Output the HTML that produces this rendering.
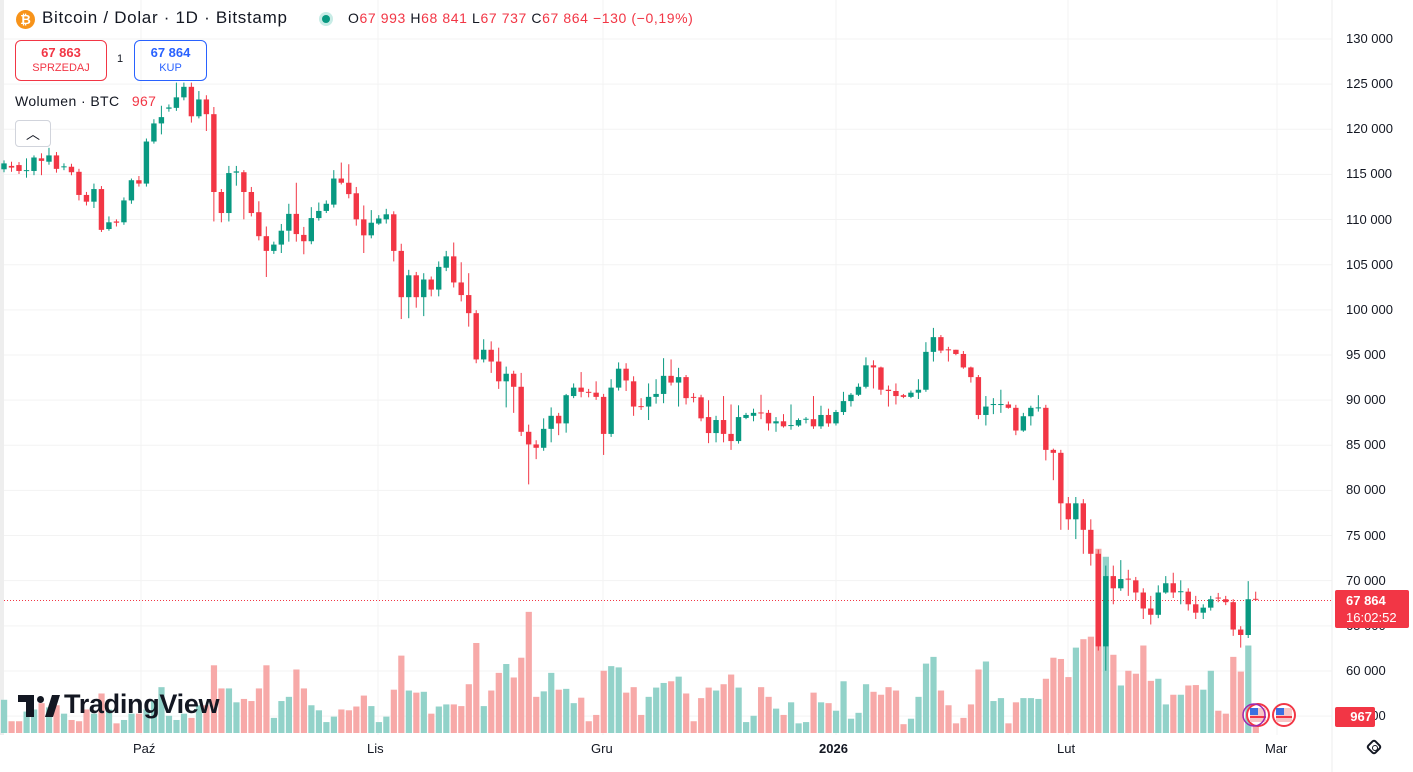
<!DOCTYPE html>
<html><head><meta charset="utf-8">
<style>
html,body{margin:0;padding:0;background:#fff;}
body{width:1413px;height:772px;position:relative;overflow:hidden;font-family:"Liberation Sans",sans-serif;color:#131722;}
.abs{position:absolute;}
.yl{position:absolute;left:1346px;font-size:13px;color:#131722;}
.xl{position:absolute;top:741px;font-size:13px;color:#131722;}
</style></head><body>
<div class="abs" style="left:0;top:0;width:4px;height:735px;background:#eeeeee"></div>
<svg id="s" class="abs" style="left:0;top:0" width="1413" height="772"></svg>

<!-- header -->
<div class="abs" style="left:16px;top:10px;width:19px;height:19px;border-radius:50%;background:#f7931a;color:#fff;font-size:13px;font-weight:bold;text-align:center;line-height:19px">₿</div>
<div class="abs" style="left:42px;top:8px;font-size:17px;letter-spacing:0.7px;color:#131722">Bitcoin / Dolar · 1D · Bitstamp</div>
<div class="abs" style="left:319px;top:12px;width:14px;height:14px;border-radius:50%;background:#c8ece6"></div>
<div class="abs" style="left:322px;top:15px;width:8px;height:8px;border-radius:50%;background:#089981"></div>
<div class="abs" style="left:348px;top:10px;font-size:14px;letter-spacing:0.6px;color:#131722;white-space:pre">O<span style="color:#f23645">67 993</span> H<span style="color:#f23645">68 841</span> L<span style="color:#f23645">67 737</span> C<span style="color:#f23645">67 864</span> <span style="color:#f23645">−130 (−0,19%)</span></div>

<div class="abs" style="left:15px;top:40px;width:90px;height:39px;border:1px solid #f23645;border-radius:6px;text-align:center;color:#f23645">
<div style="font-size:13px;font-weight:bold;margin-top:4px">67 863</div><div style="font-size:11px;margin-top:2px">SPRZEDAJ</div></div>
<div class="abs" style="left:117px;top:53px;font-size:11px">1</div>
<div class="abs" style="left:134px;top:40px;width:71px;height:39px;border:1px solid #2962ff;border-radius:6px;text-align:center;color:#2962ff">
<div style="font-size:13px;font-weight:bold;margin-top:4px">67 864</div><div style="font-size:11px;margin-top:2px">KUP</div></div>

<div class="abs" style="left:15px;top:93px;font-size:14px;letter-spacing:0.4px;color:#131722">Wolumen · BTC <span style="color:#f23645;margin-left:8px">967</span></div>
<div class="abs" style="left:15px;top:120px;width:34px;height:25px;border:1px solid #d1d4dc;border-radius:4px;background:#fff;text-align:center;font-size:14px;line-height:27px">︿</div>

<!-- TradingView logo -->
<div class="abs" style="left:18px;top:695px;width:40px;height:22px">
<div class="abs" style="left:0;top:0;width:16px;height:7px;background:#131722"></div>
<div class="abs" style="left:8px;top:0;width:8px;height:22px;background:#131722"></div>
<div class="abs" style="left:19px;top:1px;width:7px;height:7px;border-radius:50%;background:#131722"></div>
<svg class="abs" style="left:18px;top:0" width="24" height="22"><polygon points="9,22 16,0 24,0 17,22" fill="#131722"/></svg>
</div>
<div class="abs" style="left:64px;top:689px;font-size:27px;font-weight:bold;color:#131722;letter-spacing:-0.3px">TradingView</div>

<!-- y labels -->
<div id="ylabels"></div>
<div class="abs" style="left:1335px;top:590px;width:74px;height:38px;background:#f23645;border-radius:2px;color:#fff;font-size:13px;">
<div style="margin:3px 0 0 11px;font-weight:bold">67 864</div><div style="margin:2px 0 0 11px">16:02:52</div></div>
<div class="abs" style="left:1335px;top:707px;width:40px;height:20px;background:#f23645;border-radius:2px;color:#fff;font-size:13px;font-weight:bold;line-height:20px;text-align:right;padding-right:3px;box-sizing:border-box">967</div>

<div class="xl" style="left:133px">Paź</div>
<div class="xl" style="left:367px">Lis</div>
<div class="xl" style="left:591px">Gru</div>
<div class="xl" style="left:819px;font-weight:bold">2026</div>
<div class="xl" style="left:1057px">Lut</div>
<div class="xl" style="left:1265px">Mar</div>
<div class="abs" style="left:1368px;top:741px;width:12px;height:12px;border:2px solid #131722;box-sizing:border-box;transform:rotate(45deg);border-radius:3px"></div>
<div class="abs" style="left:1372px;top:745px;width:4px;height:4px;border:1.5px solid #131722;border-radius:50%"></div>

<script>
var NS="http://www.w3.org/2000/svg",s=document.getElementById('s');
function el(t,a){var e=document.createElementNS(NS,t);for(var k in a)e.setAttribute(k,a[k]);s.appendChild(e);return e;}
var yl=document.getElementById('ylabels'),h='';
for(var k=0;k<=15;k++){var p=130000-5000*k,y=39+45.14*k;
 el('line',{x1:4,x2:1332,y1:y,y2:y,stroke:'#f3f3f3','stroke-width':1});
 h+='<div class="yl" style="top:'+(y-8)+'px">'+(p/1000)+' 000</div>';
}
yl.innerHTML=h;
[141,378,603,836,1068,1277].forEach(function(x){el('line',{x1:x,x2:x,y1:0,y2:735,stroke:'#f3f3f3'});});
el('line',{x1:1332,x2:1332,y1:0,y2:772,stroke:'#eeeeee'});
var C=[
['g',222,236],['r',228,232,218,242],['r',226,240],['g',238,240,210,256],['g',208,240,203,250],['r',210,216,198,250],['g',203,218,185],['r',203,235,195,244],['g',229,231],['r',230,243],
['r',242,297,0,310],['r',297,313,0,322],['g',283,313,270,328],['r',283,380,0,385],['g',362,378,348,382],['r',360,363,355,372],['g',310,362,0,368],['g',262,310,258,318],['r',262,270,252],['g',170,270],
['g',127,170,117,175],['g',112,127,85,153],['g',89,92],['g',65,90,30],['g',40,65,30,72],['r',40,110,30,125],['g',70,110,50,115],['r',70,105,60,145],['r',105,290,88,360],['r',290,340,0,362],
['g',245,340,228,360],['g',241,244,228,275],['r',243,290,238,355],['r',290,340,278,348],['r',338,395,312,405],['r',395,430,372,492],['g',415,430,408],['g',382,415,366,435],['g',342,382,318,408],['r',342,390,268,408],
['r',392,407,373,438],['g',352,407,326],['g',335,352,315,358],['g',318,335,310,340],
['g',258,320,238,327],['r',258,268,220,272],['r',268,295,224,305],['r',293,355,278,370],['r',355,393,322,435],['g',363,393,333],['g',353,365,345,368],['g',343,355,330,365],['r',343,430,0,455],['r',430,540,413,592],
['g',488,540,475,590],['r',488,540,480,565],['g',498,540,483,585],['r',498,522,0,538],['g',468,522,455,538],['g',443,470,430,478],['r',443,505,410,517],['r',505,535,457,550],['r',535,578,483,610],['r',578,688,0,697],
['g',665,688,640],['r',665,693,645,720],['r',693,740,660,758],['g',722,740,705,802],['r',722,753,0,815],['r',753,860,720,870],['r',860,890,843,985],['r',890,898,880,925],['g',853,898,828],['g',822,853,802,885],
['r',822,840,815,868],['g',773,840,770,862],['g',755,775,745,780],['r',755,765,718,778],['r',765,767,758,778],['r',767,777,740],['r',777,865,0,915],['g',755,865,735],['g',710,755,695,762],['r',710,738,697,763],
['r',740,800,728,822],['r',799,801,780,808],['g',777,800,745,832],['g',770,777,735,793],
['g',727,770,685,792],['r',727,743,688,750],['g',730,743,708,800],['r',730,780,725,795],['r',777,779,768,790],['r',778,828,772,835],['r',825,863,785,887],['g',832,863,822,885],['r',832,865,775,885],['r',865,882,795,903],
['g',825,882,797,888],['g',820,827,815,830],['g',815,822,805,835],['r',814,816,772,830],['r',815,840,808,857],['g',835,840,825,860],['r',835,847,818,850],['g',844,846,795,855],['g',832,845,828,848],['g',829,831,825,840],
['r',830,847,775,853],['g',820,847,798,853],['r',820,840,805,848],['g',813,840,808,845],['g',787,813,765,820],['g',772,787,768,800],['g',753,772,745,775],['g',702,753,683,757],['r',702,707,690,757],['r',707,760,705,772],
['r',760,763,750,800],['r',763,775,745,795],['r',773,777,770,780],['g',767,777,762,780],['g',760,767,735,782],['g',670,760,647,765],['g',635,670,613,693],['r',635,667,630,673],['r',664,666,658,693],['r',665,675,665,678],
['r',675,707,668,710],['r',707,730,705,743],['r',730,820,725,830],['g',800,820,775,845],
['g',794,796,780,818],['g',794,796,760,815],['r',795,803,788,805],['r',803,857,0,868],['g',823,857,815,860],['g',803,823,798,845],['g',802,804,773,812],['r',803,903,0,928],['r',903,910,900,975],['r',910,1030,0,1093],
['r',1030,1068,1015,1093],['g',1030,1068,1015,1115],['r',1030,1093,1020,1150],['r',1093,1150,1068,1178],['r',1150,1370,1140,1380],['g',1203,1370,1178,1428],['r',1203,1232,1178,1270],['g',1210,1232,1165,1238],['r',1209,1211,1188,1250],['r',1213,1242,1205,1260],
['r',1242,1280,1232,1305],['r',1280,1295,1250,1318],['g',1242,1295,1225,1303],['g',1220,1242,1203,1245],['r',1220,1242,1195,1255],['g',1239,1241,1213,1270],['r',1240,1270,1232,1285],['r',1270,1290,1250,1305],['g',1278,1290,1270,1305],['g',1258,1278,1250,1285],
['r',1254,1256,1243,1265],['r',1258,1265,1250,1272],['r',1265,1330,0,1345],['r',1330,1343,1322,1373],['g',1258,1343,1215],['r',1257,1259,1240,1262]];
var V=[1497,1548,1548,1525,1520,1505,1515,1510,1530,1545,1548,1520,1530,1482,1520,1553,1545,1530,1530,1520,1500,1467,1535,1545,1530,1540,1510,1510,1415,1470,1470,1503,1495,1500,1470,1415,1540,1500,1490,1425,1470,1510,1522,1550,
1537,1520,1522,1513,1487,1512,1550,1537,1473,1392,1475,1480,1478,1530,1513,1508,1508,1512,1460,1362,1512,1475,1433,1412,1444,1397,1288,1490,1477,1433,1473,1471,1505,1492,1548,1533,1428,1417,1420,1480,1467,1533,1490,1468,
1457,1453,1442,1482,1548,1493,1468,1475,1460,1437,1468,1550,1535,1467,1490,1518,1533,1503,1553,1550,1480,1503,1505,1523,1453,1542,1528,1460,1478,1485,1467,1475,1555,1542,1490,1411,1395,1475,1510,1553,1540,1508,1425,1406,
1500,1493,1553,1503,1493,1493,1495,1447,1397,1400,1443,1373,1353,1347,1138,1157,1390,1463,1428,1435,1368,1452,1447,1508,1485,1485,1463,1462,1473,1428,1523,1530,1395,1430,1368,1540];
function Y(z){return z/2.377+70;}
var step=(1255.7-4)/167;
for(var i=0;i<C.length;i++){var x=4+i*step,c=C[i],t=Y(V[i]||1540);
 el('rect',{x:x-3,y:t,width:6.2,height:733-t,fill:c[0]=='g'?'#92d2c9':'#f7a9a8'});}
el('line',{x1:4,x2:1332,y1:600.5,y2:600.5,stroke:'#f23645','stroke-width':1,'stroke-dasharray':'1,2'});
for(var i=0;i<C.length;i++){var x=4+i*step,c=C[i],col=c[0]=='g'?'#089981':'#f23645';
 var t=Y(c[1]),b=Y(c[2]),hi=c[3]?Y(c[3]):t-3,lo=c[4]?Y(c[4]):b+3;
 el('line',{x1:x,x2:x,y1:hi,y2:lo,stroke:col,'stroke-width':1});
 el('rect',{x:x-2.7,y:t,width:5.4,height:Math.max(1,b-t),fill:col});}
[1258,1284].forEach(function(x){el('circle',{cx:x,cy:715,r:11,fill:'#fff',stroke:'#f23645','stroke-width':2});
 el('rect',{x:x-8,y:708,width:16,height:14,fill:'#f7c6c6'});el('rect',{x:x-8,y:708,width:8,height:7,fill:'#3b6fe0'});
 el('line',{x1:x-8,x2:x+8,y1:717,y2:717,stroke:'#f23645','stroke-width':2});});
el('circle',{cx:1254,cy:715,r:11,fill:'none',stroke:'#9c27b0','stroke-width':1.5});
</script>
</body></html>
